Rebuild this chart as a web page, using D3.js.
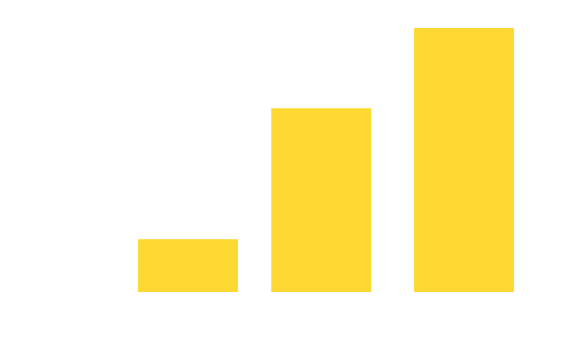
<!DOCTYPE html>
<html>
<head>
<meta charset="utf-8">
<script src="https://cdn.jsdelivr.net/npm/d3@7"></script>
<style>
  body { margin: 0; background: #fff; }
</style>
</head>
<body>
<div id="chart"></div>
<script>
// bar positions along x and their values
const positions = [13, 27, 42];
const values = [10, 34.8, 50];

const width = 580;
const height = 340;
const barWidth = 100;

const xScale = d3.scaleLinear()
    .domain([13, 42])
    .range([188, 464]);

const yScale = d3.scaleLinear()
    .domain([0, 50])
    .range([292, 28]);

const svg = d3.select("#chart")
    .append("svg")
    .attr("width", width)
    .attr("height", height);

svg.append("g")
    .selectAll("rect")
    .data(values)
    .enter()
    .append("rect")
    .attr("x", (d, i) => xScale(positions[i]) - barWidth / 2)
    .attr("y", d => yScale(d))
    .attr("width", barWidth)
    .attr("height", d => yScale(0) - yScale(d))
    .attr("fill", "#fed933");
</script>
</body>
</html>
